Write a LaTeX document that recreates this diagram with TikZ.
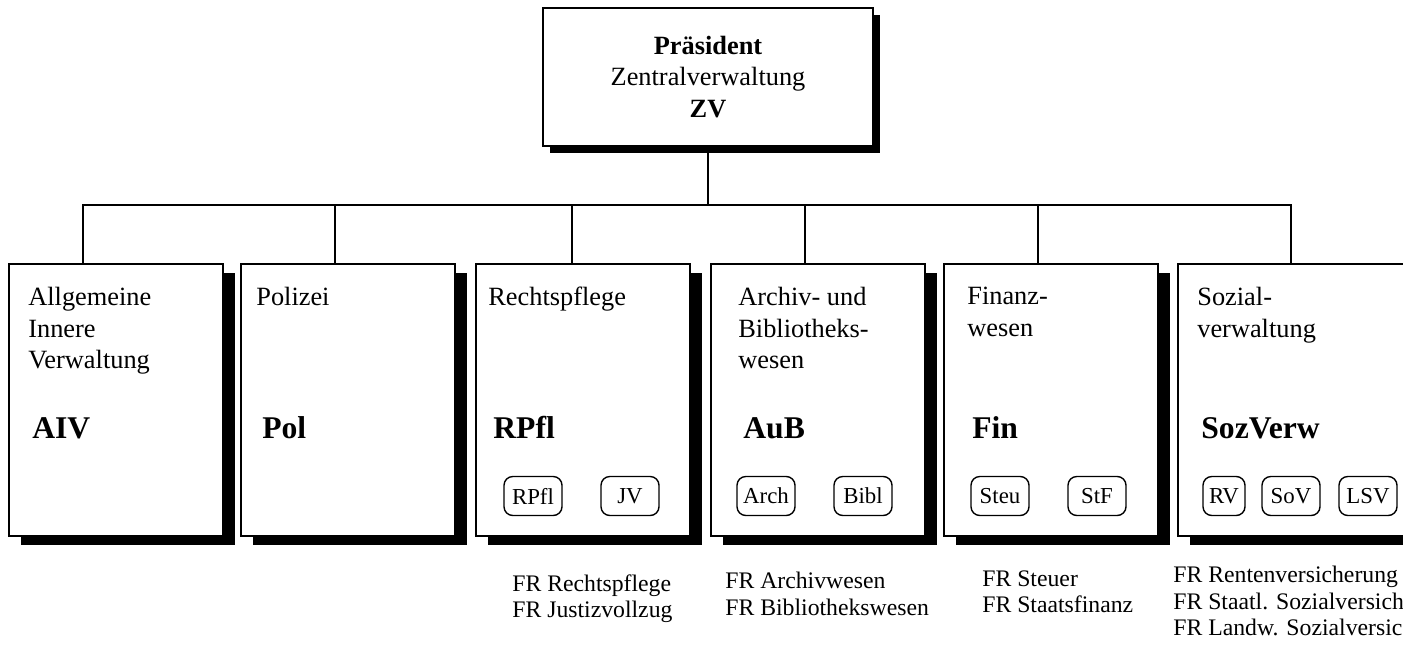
\documentclass[tikz,border=0pt]{standalone}
\usepackage{fontspec}
\setmainfont{Liberation Serif}
\usetikzlibrary{shadows,calc}

\tikzset{
  amt/.style={draw,line width=1.1pt,fill=white,anchor=north west,
    minimum width=4.28cm,minimum height=5.44cm,
    drop shadow={shadow xshift=0.24cm,shadow yshift=-0.18cm,opacity=1,fill=black}},
  titel/.style={anchor=north west,align=left,inner sep=0pt,font=\fontsize{15}{18}\selectfont},
  kurz/.style={anchor=base west,inner sep=0pt,font=\fontsize{18}{22}\selectfont\bfseries},
  referat/.style={draw,line width=0.8pt,rounded corners=5pt,minimum width=1.16cm,
    minimum height=0.78cm,inner sep=2pt,font=\fontsize{13}{15}\selectfont},
  fr/.style={anchor=north west,align=left,inner sep=0pt,font=\fontsize{13.5}{15}\selectfont},
  linie/.style={line width=1.1pt}
}

\begin{document}
\begin{tikzpicture}[x=0.02cm,y=-0.02cm]
			\useasboundingbox (0,0) rectangle (1403,645);
			\clip (0,0) rectangle (1403,645);
			% Leitung
			\node[draw,line width=1.1pt,fill=white,minimum width=6.6cm,minimum height=2.76cm,
				align=center,font=\fontsize{15}{18}\selectfont,
				drop shadow={shadow xshift=0.14cm,shadow yshift=-0.14cm,opacity=1,fill=black}]
				(zv) at (708,77) {\textbf{Präsident}\\Zentralverwaltung\\\textbf{ZV}};
			% Abteilungen
			\node[amt] (aiv) at (8,263) {};
			\node[amt] (pol) at (240,263) {};
			\node[amt] (rpfl) at (475,263) {};
			\node[amt] (aub) at (710,263) {};
			\node[amt] (fin) at (943,263) {};
			\node[amt,minimum width=4.8cm] (soz) at (1177,263) {};
			% Verbindungen
			\coordinate (hub) at (708,205);
			\draw[linie] (zv.south) -- (hub);
			\draw[linie] ($(aiv.north west)+(75,0)$) |- (hub);
			\draw[linie] ($(pol.north west)+(95,0)$) |- (hub);
			\draw[linie] ($(rpfl.north west)+(97,0)$) |- (hub);
			\draw[linie] ($(aub.north west)+(95,0)$) |- (hub);
			\draw[linie] ($(fin.north west)+(95,0)$) |- (hub);
			\draw[linie] ($(soz.north west)+(114,0)$) |- (hub);
			% Texte
			\node[titel] (aivtext) at (28,287) {Allgemeine\\Innere\\Verwaltung};
			\node[titel] (poltext) at (256,287) {Polizei};
			\node[titel] (rpfltext) at (488,287) {Rechtspflege};
			\node[titel] (aubtext) at (738,287) {Archiv- und\\Bibliotheks-\\wesen};
			\node[titel] (fintext) at (967,287) {Finanz-\\wesen};
			\node[titel] (soztext) at (1197,287) {Sozial-\\verwaltung};
			\node[kurz] (aivkurz) at (32,438) {AIV};
			\node[kurz] (polkurz) at (262,438) {Pol};
			\node[kurz] (rpflkurz) at (493,438) {RPfl};
			\node[kurz] (aubkurz) at (743,438) {AuB};
			\node[kurz] (finkurz) at (972,438) {Fin};
			\node[kurz] (sozkurz) at (1201,438) {SozVerw};
			% Fachreferate
			\node[referat] (rpflref) at (533,496) {RPfl};
			\node[referat] (jv) at (630,496) {JV};
			\node[referat] (arch) at (766,496) {Arch};
			\node[referat] (bibl) at (863,496) {Bibl};
			\node[referat] (steu) at (1000,496) {Steu};
			\node[referat] (stf) at (1097,496) {StF};
			\node[referat,minimum width=0.84cm] (rv) at (1224,496) {RV};
			\node[referat] (sov) at (1291,496) {SoV};
			\node[referat] (lsv) at (1368,496) {LSV};
			\node[fr] (frrpfl) at (512,574) {FR Rechtspflege\\FR Justizvollzug};
			\node[fr] (fraub) at (725,572) {FR Archivwesen\\FR Bibliothekswesen};
			\node[fr] (frfin) at (982,570) {FR Steuer\\FR Staatsfinanz};
			\node[fr] (frsoz) at (1173,566) {FR Rentenversicherung\\FR Staatl. Sozialversich\\FR Landw. Sozialversic};
		\end{tikzpicture}
\end{document}
